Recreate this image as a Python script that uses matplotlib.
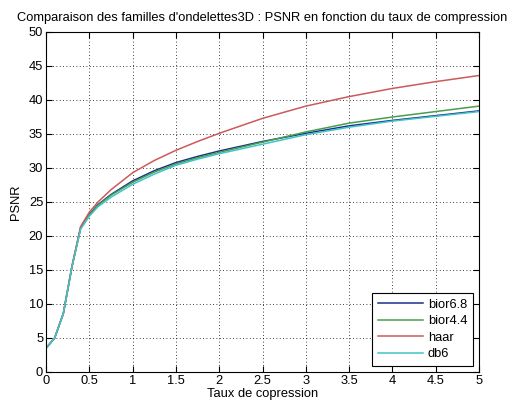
import matplotlib
matplotlib.use("Agg")
import matplotlib.pyplot as plt

taux = [0, 0.1, 0.2, 0.3, 0.4, 0.5, 0.6, 0.75, 1.0, 1.25, 1.5, 1.75, 2.0, 2.5, 3.0, 3.5, 4.0, 4.5, 5.0]
bior68 = [3.5, 5.0, 8.6, 15.5, 21.2, 23.2, 24.6, 26.1, 28.1, 29.6, 30.8, 31.7, 32.5, 33.9, 35.1, 36.2, 37.0, 37.7, 38.4]
bior44 = [3.5, 5.0, 8.6, 15.5, 21.2, 23.1, 24.5, 26.0, 27.9, 29.4, 30.6, 31.5, 32.3, 33.8, 35.3, 36.6, 37.5, 38.3, 39.1]
haar = [3.5, 5.0, 8.6, 15.6, 21.4, 23.5, 25.0, 26.8, 29.3, 31.1, 32.6, 33.9, 35.1, 37.3, 39.1, 40.5, 41.7, 42.7, 43.6]
db6 = [3.5, 5.0, 8.6, 15.5, 21.0, 22.9, 24.3, 25.7, 27.6, 29.1, 30.4, 31.3, 32.1, 33.5, 34.9, 36.0, 36.9, 37.6, 38.3]

series = [("bior6.8", bior68, "#1c2f8f"),
          ("bior4.4", bior44, "#4a9e4a"),
          ("haar", haar, "#cc5a5a"),
          ("db6", db6, "#40c4c8")]

xticks = [0, 0.5, 1, 1.5, 2, 2.5, 3, 3.5, 4, 4.5, 5]
xticklabels = ["0", "0.5", "1", "1.5", "2", "2.5", "3", "3.5", "4", "4.5", "5"]
yticks = [0, 5, 10, 15, 20, 25, 30, 35, 40, 45, 50]
yticklabels = ["0", "5", "10", "15", "20", "25", "30", "35", "40", "45", "50"]

plt.rcParams['font.family'] = ['Liberation Sans', 'DejaVu Sans']
fs = 9.3

fig = plt.figure(figsize=(5.08, 4.09), dpi=100)
ax = fig.add_axes([46/508, 37/409, 433/508, 340/409])

for name, vals, col in series:
    ax.plot(taux, vals, color=col, lw=1.1, label=name)

ax.set_xlim(0, 5)
ax.set_ylim(0, 50)
ax.set_xticks(xticks)
ax.set_xticklabels(xticklabels)
ax.set_yticks(yticks)
ax.set_yticklabels(yticklabels)
ax.tick_params(direction='in', top=True, right=True, length=4, width=0.8,
               labelsize=fs, pad=2)
ax.grid(True, color='black', linestyle=(0, (1, 3)), linewidth=0.6)
for s in ax.spines.values():
    s.set_linewidth(0.8)

ax.set_title("Comparaison des familles d'ondelettes3D : PSNR en fonction du taux de compression",
             fontsize=fs, pad=8)
ax.set_xlabel("Taux de copression", fontsize=fs, labelpad=1)
ax.set_ylabel("PSNR", fontsize=fs, labelpad=5)

leg = ax.legend(loc='lower right', fontsize=fs, fancybox=False, framealpha=1,
                edgecolor='black', handlelength=3.5, borderaxespad=0.5,
                labelspacing=0.35, handletextpad=0.4)
leg.get_frame().set_linewidth(0.8)

fig.savefig("out.png", dpi=100)
